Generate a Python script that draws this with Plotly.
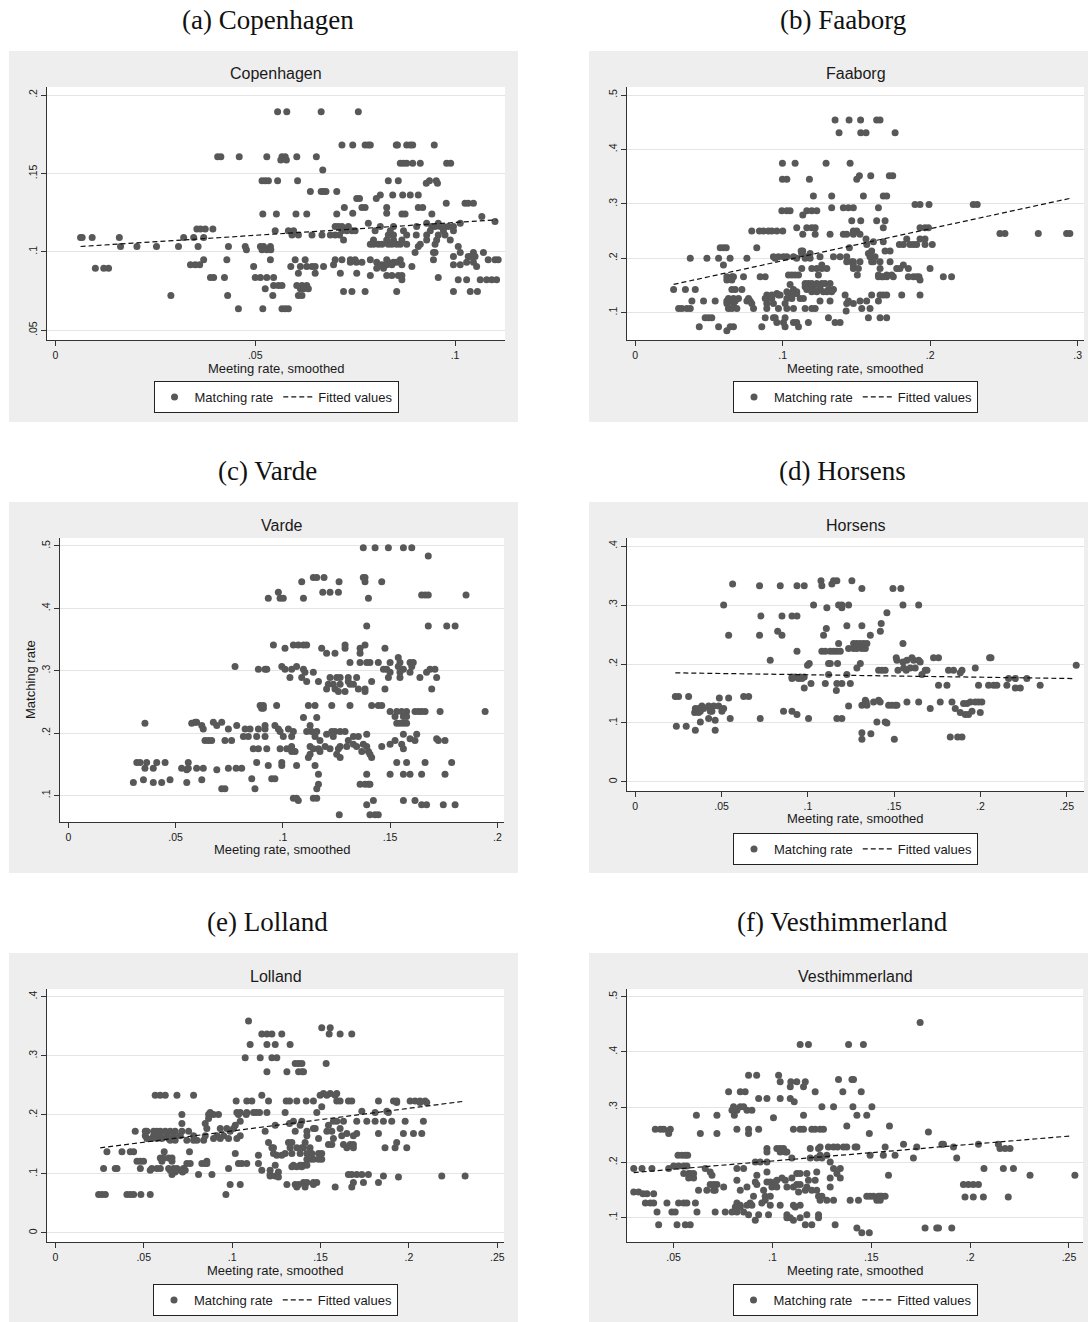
import plotly.graph_objects as go

W, H = 1088, 1322

# ---------------------------------------------------------------------------
# Data: each row is (matching rate, [meeting rates of the observations
# sharing that matching rate]).
# ---------------------------------------------------------------------------
cph_rows = [
    (0.1894, [0.0556, 0.0579, 0.0665, 0.0758]),
    (0.1682, [0.0717, 0.0744, 0.0775, 0.0783, 0.0788, 0.0853, 0.0856, 0.0879, 0.0888, 0.0894, 0.0948]),
    (0.1607, [0.0406, 0.0414, 0.046, 0.0529, 0.0567, 0.0575, 0.0604, 0.0653]),
    (0.1586, [0.0564, 0.0578]),
    (0.1565, [0.0863, 0.0871, 0.0879, 0.0894, 0.0913, 0.0979, 0.0989]),
    (0.1522, [0.0669]),
    (0.1454, [0.0517, 0.0525, 0.0533, 0.0556, 0.0606, 0.0833, 0.0858, 0.0936, 0.0953]),
    (0.1437, [0.0928, 0.0956]),
    (0.1384, [0.0638, 0.0665, 0.0671, 0.0677, 0.0704]),
    (0.1363, [0.0813, 0.0844, 0.0869, 0.0888, 0.0908]),
    (0.134, [0.0754, 0.0761, 0.0803]),
    (0.131, [0.0978, 0.1025, 0.1033, 0.1046]),
    (0.1282, [0.0723, 0.0767, 0.0775, 0.0829, 0.0908, 0.0919]),
    (0.1246, [0.0744, 0.0829]),
    (0.1242, [0.0519, 0.0553, 0.0602, 0.0629, 0.0704, 0.0867, 0.0875, 0.0942]),
    (0.1225, [0.1067]),
    (0.1193, [0.11]),
    (0.1183, [0.0783, 0.0929, 0.0958, 0.1013]),
    (0.1161, [0.07, 0.0708, 0.0717, 0.0733, 0.0813, 0.0846, 0.0904, 0.0942, 0.095, 0.0963, 0.0971, 0.0983, 0.0996]),
    (0.1146, [0.0354, 0.0363, 0.0375, 0.0394]),
    (0.1134, [0.055, 0.0583, 0.0596, 0.0717, 0.0729, 0.0742, 0.075, 0.08, 0.0838, 0.0871, 0.0938, 0.0971, 0.0996]),
    (0.1108, [0.0592, 0.0608, 0.0642, 0.0667, 0.0688, 0.07, 0.0711, 0.0833, 0.0846, 0.0879, 0.0903, 0.0929, 0.0958, 0.0975]),
    (0.1091, [0.0063, 0.0067, 0.0092, 0.016, 0.0321, 0.0346, 0.0371]),
    (0.1076, [0.0721, 0.0796, 0.0829, 0.0846, 0.0867, 0.0929, 0.0954, 0.0988]),
    (0.1049, [0.0788, 0.0796, 0.0808, 0.0817, 0.0833, 0.0842, 0.0854, 0.0863, 0.0879, 0.0913, 0.095]),
    (0.1034, [0.0163, 0.0204, 0.0253, 0.0308, 0.0357, 0.0433, 0.0475, 0.0513, 0.0521, 0.0538, 0.0908, 0.1008]),
    (0.1013, [0.0478, 0.0517, 0.0529, 0.0539]),
    (0.0996, [0.09, 0.0946, 0.095, 0.1013, 0.1046, 0.1071]),
    (0.097, [0.0996, 0.1033, 0.1038, 0.105]),
    (0.0949, [0.0371, 0.0429, 0.0538, 0.06, 0.0625, 0.07, 0.0717, 0.0738, 0.075, 0.0788, 0.0829, 0.0863, 0.0946, 0.1083, 0.11, 0.1108]),
    (0.0934, [0.0738, 0.0753, 0.0767, 0.0804, 0.0833, 0.0846, 0.0854, 0.1029, 0.1046]),
    (0.0917, [0.0338, 0.035, 0.0361, 0.0696, 0.0817, 0.0829, 0.0842, 0.0867, 0.0996, 0.1013]),
    (0.0907, [0.0496, 0.0589, 0.0613, 0.0629, 0.0642, 0.065, 0.0671, 0.0892, 0.1054]),
    (0.0896, [0.01, 0.0121, 0.0133, 0.0804, 0.0821]),
    (0.0864, [0.0608, 0.065, 0.0713, 0.0754]),
    (0.0849, [0.0788, 0.0829, 0.0842, 0.0858, 0.0867]),
    (0.0837, [0.0388, 0.0396, 0.0423, 0.05, 0.0513, 0.0529, 0.0546, 0.0958]),
    (0.0822, [0.0867, 0.1008, 0.1029, 0.1063, 0.1079, 0.1092, 0.1104]),
    (0.0786, [0.0546, 0.0558, 0.0567, 0.0604, 0.0617, 0.0629]),
    (0.0764, [0.0525, 0.0613, 0.0621, 0.0633]),
    (0.0747, [0.0721, 0.0742, 0.0775, 0.0854, 0.0996, 0.1038, 0.1056]),
    (0.0722, [0.0289, 0.0431, 0.0544, 0.0608, 0.0617]),
    (0.0637, [0.0458, 0.0519, 0.0567, 0.0575, 0.0583]),
]
cph_fit_x = [0.0063, 0.1104]
cph_fit_y = [0.1034, 0.1204]

faa_rows = [
    (0.454, [0.1355, 0.145, 0.1528, 0.1637, 0.166]),
    (0.4308, [0.1382, 0.1529, 0.1565, 0.1762]),
    (0.3744, [0.0998, 0.1084, 0.1294, 0.1457]),
    (0.3517, [0.152, 0.1597, 0.1723, 0.1746]),
    (0.345, [0.0998, 0.1028, 0.1181, 0.1502]),
    (0.3143, [0.1208, 0.1332, 0.1547, 0.1682, 0.1705]),
    (0.299, [0.1897, 0.1931, 0.1992, 0.2292, 0.2319]),
    (0.2929, [0.1332, 0.1411, 0.1445, 0.1479, 0.1649]),
    (0.2874, [0.0994, 0.1028, 0.105, 0.1163, 0.1197, 0.1231]),
    (0.2794, [0.1136]),
    (0.269, [0.1468, 0.1529, 0.1637, 0.1694]),
    (0.2561, [0.1095, 0.1163, 0.1197, 0.122, 0.1682, 0.1931, 0.1965, 0.1988]),
    (0.25, [0.079, 0.0842, 0.0869, 0.0903, 0.0926, 0.096, 0.1, 0.1479, 0.1502]),
    (0.2457, [0.2473, 0.2507, 0.2733, 0.2925, 0.2947]),
    (0.2439, [0.1136, 0.122, 0.1321, 0.1411, 0.1434, 0.1479, 0.1524]),
    (0.2353, [0.1565, 0.1841, 0.1931, 0.1965]),
    (0.2304, [0.1615, 0.1682]),
    (0.2255, [0.157, 0.1791, 0.1818, 0.1863, 0.1886, 0.1908, 0.1965, 0.2014]),
    (0.2194, [0.0576, 0.0598, 0.0617, 0.0824, 0.1452]),
    (0.2132, [0.1125, 0.1136, 0.1603, 0.1694, 0.1728]),
    (0.2089, [0.1129, 0.1186, 0.1581]),
    (0.2028, [0.0937, 0.0971, 0.1005, 0.1028, 0.1073, 0.1163, 0.1253, 0.1344, 0.1389, 0.1434, 0.1592, 0.1626]),
    (0.1998, [0.0373, 0.0486, 0.0565, 0.0643, 0.0757, 0.0949, 0.1095, 0.1152, 0.1186]),
    (0.1936, [0.1434, 0.1468, 0.1479, 0.1524, 0.1603, 0.1615, 0.166, 0.1728]),
    (0.1875, [0.0598, 0.1265, 0.1479, 0.1818]),
    (0.1814, [0.1129, 0.1197, 0.1231, 0.1265, 0.1299, 0.1479, 0.1513, 0.166, 0.1773, 0.1795, 0.1852, 0.1999]),
    (0.1691, [0.1039, 0.1062, 0.1084, 0.1107, 0.1242, 0.1506, 0.1649, 0.1705, 0.1739]),
    (0.166, [0.0621, 0.0655, 0.0666, 0.0734, 0.0847, 0.0881, 0.1649, 0.1671, 0.1682, 0.1705, 0.175, 0.1852, 0.1886, 0.1908, 0.1924, 0.2089, 0.2145]),
    (0.1599, [0.0621, 0.0655, 0.1931]),
    (0.1538, [0.1152, 0.1174, 0.1197, 0.1231, 0.1265, 0.1287, 0.1321]),
    (0.152, [0.105]),
    (0.1477, [0.1152, 0.1186, 0.1208, 0.1253]),
    (0.1428, [0.026, 0.034, 0.0407, 0.0655, 0.0678, 0.0723, 0.1073, 0.1163, 0.1208, 0.1253, 0.131, 0.1344]),
    (0.1385, [0.1028, 0.1095, 0.1197, 0.1231, 0.1276, 0.1299, 0.1332]),
    (0.1354, [0.096, 0.1039, 0.1062, 0.1084, 0.1095]),
    (0.1324, [0.0892, 0.0926, 0.0971, 0.0982, 0.1423, 0.1603, 0.166, 0.1682, 0.1705, 0.1807, 0.1931]),
    (0.1262, [0.0632, 0.0666, 0.07, 0.0768, 0.0881, 0.0892, 0.0926, 0.1028, 0.1062, 0.1118, 0.114]),
    (0.1213, [0.0384, 0.0463, 0.0542, 0.0621, 0.0644, 0.0678, 0.0757, 0.0779, 0.1253, 0.1321, 0.1445, 0.1524, 0.1569, 0.1649]),
    (0.117, [0.0621, 0.0666, 0.079, 0.0892, 0.0937, 0.1016, 0.1434, 0.1479]),
    (0.1078, [0.0294, 0.0316, 0.035, 0.0373, 0.0632, 0.0655, 0.0689, 0.0802, 0.0892, 0.0971, 0.1028, 0.1073, 0.1152, 0.1197, 0.122, 0.1536, 0.1592]),
    (0.1029, [0.143]),
    (0.0907, [0.0474, 0.0497, 0.0519, 0.0881, 0.0937, 0.0949, 0.1016, 0.131, 0.1581, 0.166, 0.1705]),
    (0.0821, [0.096, 0.1005, 0.1073, 0.1095, 0.1174, 0.1355, 0.1389]),
    (0.0741, [0.0434, 0.0565, 0.0644, 0.0666, 0.0858, 0.1016, 0.1107]),
    (0.0668, [0.0621]),
]
faa_fit_x = [0.026, 0.2947]
faa_fit_y = [0.152, 0.310]

var_rows = [
    (0.4973, [0.1375, 0.143, 0.1492, 0.1562, 0.1601]),
    (0.484, [0.1678]),
    (0.4493, [0.1142, 0.1158, 0.1192, 0.1375, 0.1383]),
    (0.4428, [0.1088, 0.1262, 0.1383, 0.1461]),
    (0.4257, [0.0979, 0.1186, 0.122, 0.1259]),
    (0.4215, [0.1647, 0.1663, 0.1678, 0.1854]),
    (0.4161, [0.0932, 0.0987, 0.1002, 0.1096, 0.1399]),
    (0.3718, [0.1391, 0.1678, 0.1764, 0.1803]),
    (0.3413, [0.0956, 0.1049, 0.1072, 0.1096, 0.1111, 0.129, 0.1383]),
    (0.336, [0.101, 0.1181, 0.129, 0.136, 0.1476]),
    (0.328, [0.1204, 0.1243, 0.136]),
    (0.321, [0.1538]),
    (0.313, [0.1313, 0.136, 0.1391, 0.1406, 0.1445, 0.15, 0.1546, 0.1593, 0.1608]),
    (0.3066, [0.0777, 0.0995, 0.1064, 0.1538, 0.1601]),
    (0.3023, [0.0886, 0.0917, 0.0925, 0.101, 0.1041, 0.1096, 0.1469, 0.1484, 0.1562, 0.1686, 0.1709]),
    (0.2975, [0.1103, 0.1142, 0.15, 0.1546, 0.1593, 0.167]),
    (0.289, [0.1033, 0.1088, 0.122, 0.1251, 0.1267, 0.1305, 0.1344, 0.1492, 0.1546, 0.1639, 0.1717]),
    (0.2826, [0.1111, 0.1166, 0.1305, 0.1414]),
    (0.2783, [0.1212, 0.1235, 0.1267, 0.1313, 0.1329]),
    (0.2708, [0.1204, 0.1243, 0.1352, 0.1383, 0.1476, 0.1694]),
    (0.2666, [0.1259, 0.129, 0.1383]),
    (0.2441, [0.0894, 0.0909, 0.0971, 0.1119, 0.115, 0.1228, 0.1313, 0.1414, 0.1445, 0.1461]),
    (0.2398, [0.0901, 0.0909]),
    (0.2345, [0.15, 0.1531, 0.1554, 0.1577, 0.1616, 0.1632, 0.1647, 0.1663, 0.1733, 0.1943]),
    (0.2265, [0.1523, 0.1562, 0.1577]),
    (0.2249, [0.1096, 0.1158]),
    (0.2174, [0.0591, 0.0598, 0.0676, 0.0715]),
    (0.2158, [0.0357, 0.0575, 0.1531, 0.1546, 0.1562, 0.1577]),
    (0.2121, [0.0622, 0.0692, 0.0785, 0.0917, 0.0963, 0.1127]),
    (0.2067, [0.0629, 0.0746, 0.0824, 0.0847, 0.0886, 0.0917, 0.0979, 0.1026]),
    (0.2025, [0.0987, 0.1049, 0.1111, 0.1134, 0.1158, 0.1228, 0.1243, 0.1267, 0.129]),
    (0.1982, [0.1204, 0.1391, 0.1562, 0.1624]),
    (0.1944, [0.0816, 0.0839, 0.0878, 0.0917, 0.1002, 0.1041, 0.115, 0.1235, 0.1329, 0.1352]),
    (0.1907, [0.1593, 0.1717]),
    (0.188, [0.0637, 0.0653, 0.0668, 0.073, 0.0761, 0.1173, 0.1305, 0.1523, 0.1616, 0.1725, 0.1756]),
    (0.1822, [0.1329, 0.1375, 0.15, 0.1554]),
    (0.1784, [0.1041, 0.1127, 0.1197, 0.1267, 0.1298, 0.1344, 0.1391, 0.1461]),
    (0.1747, [0.0862, 0.0886, 0.0925, 0.0987, 0.1018, 0.1142, 0.1166, 0.122, 0.1259, 0.1562]),
    (0.1704, [0.1041, 0.1057, 0.1173, 0.1368, 0.1399]),
    (0.1661, [0.1127, 0.1251, 0.1406]),
    (0.1608, [0.1119, 0.1267, 0.1414]),
    (0.1528, [0.0319, 0.0334, 0.0365, 0.0412, 0.0451, 0.0559, 0.0878, 0.0995, 0.1531, 0.1577, 0.1663, 0.1787]),
    (0.148, [0.0932, 0.0995, 0.1064, 0.115]),
    (0.1437, [0.0357, 0.0396, 0.0528, 0.0559, 0.0598, 0.0629, 0.0746, 0.0782, 0.0808]),
    (0.141, [0.0552, 0.0692]),
    (0.1341, [0.1166, 0.1391, 0.15, 0.1562, 0.1593, 0.1647, 0.1756]),
    (0.1266, [0.0855, 0.0948, 0.0963]),
    (0.125, [0.035, 0.0474, 0.0622]),
    (0.1207, [0.0303, 0.0396, 0.0435, 0.0552]),
    (0.118, [0.1166, 0.136, 0.1383, 0.1399, 0.1406]),
    (0.1106, [0.0715, 0.073, 0.087, 0.1158]),
    (0.0956, [0.1049, 0.1064, 0.1142, 0.1158]),
    (0.0919, [0.1072, 0.1422, 0.1562, 0.1616]),
    (0.0849, [0.1391, 0.1647, 0.167, 0.1748, 0.1803]),
    (0.0689, [0.1263, 0.1406, 0.143, 0.1445]),
]

hor_rows = [
    (0.3411, [0.1076, 0.1149, 0.1168, 0.1255]),
    (0.3355, [0.0564, 0.1139]),
    (0.3327, [0.072, 0.084, 0.0937, 0.0979, 0.1081]),
    (0.3281, [0.1313, 0.1493, 0.1539]),
    (0.3, [0.0512, 0.1033, 0.1178, 0.1197, 0.1236, 0.1551, 0.1642]),
    (0.2953, [0.111, 0.1197]),
    (0.2868, [0.1458]),
    (0.2812, [0.0728, 0.085, 0.0908, 0.0937]),
    (0.2687, [0.1425]),
    (0.2647, [0.1226, 0.1313]),
    (0.2602, [0.1107]),
    (0.2557, [0.0825, 0.142]),
    (0.2489, [0.0541, 0.072, 0.085, 0.1091, 0.1362]),
    (0.2347, [0.1178, 0.1265, 0.1284, 0.1304, 0.1323, 0.1342, 0.1551]),
    (0.2263, [0.1236, 0.1265, 0.1284, 0.1313, 0.1333]),
    (0.2217, [0.0937, 0.1081, 0.1101, 0.113, 0.1149, 0.1168, 0.1188]),
    (0.2104, [0.1512, 0.1603, 0.1728, 0.1757, 0.2053, 0.2061]),
    (0.2065, [0.0782, 0.1516, 0.1574, 0.1613, 0.1642]),
    (0.2036, [0.1551, 0.1651]),
    (0.2008, [0.1008, 0.112, 0.113, 0.1172, 0.1304]),
    (0.198, [0.0998, 0.2555]),
    (0.1934, [0.1284, 0.1555, 0.1593, 0.1622, 0.197]),
    (0.1895, [0.141, 0.1429, 0.1448, 0.1522, 0.157, 0.168, 0.169, 0.1815, 0.1844, 0.1893]),
    (0.185, [0.1883]),
    (0.1821, [0.112, 0.1226, 0.1661]),
    (0.1781, [0.0908, 0.0927, 0.0956, 0.0979]),
    (0.1753, [0.0908, 0.0946, 0.0966, 0.2163, 0.2202, 0.2269]),
    (0.1668, [0.1018, 0.1101, 0.1168, 0.1197, 0.1246]),
    (0.164, [0.1757, 0.1806, 0.1989, 0.2047, 0.2076, 0.2095, 0.2153, 0.2346]),
    (0.1595, [0.0979, 0.2202, 0.2231]),
    (0.155, [0.1165]),
    (0.1448, [0.0232, 0.0251, 0.0309, 0.0628, 0.0657]),
    (0.1425, [0.0487, 0.0541]),
    (0.1385, [0.1333, 0.141]),
    (0.1357, [0.1338, 0.1381, 0.1419, 0.1574, 0.1642, 0.1767, 0.1835, 0.1941, 0.197, 0.1989, 0.2008]),
    (0.1329, [0.1902, 0.1922]),
    (0.13, [0.1313, 0.1342, 0.1468, 0.1487, 0.1506, 0.1516]),
    (0.1289, [0.0386, 0.0425, 0.0454, 0.0483, 0.1236]),
    (0.1244, [0.0348, 0.0367, 0.0396, 0.0435, 0.0512, 0.1709, 0.1854]),
    (0.1199, [0.0377, 0.0435, 0.0444, 0.0502, 0.0859, 0.0908, 0.1951]),
    (0.1176, [0.0344, 0.0367, 0.1883, 0.1999]),
    (0.1142, [0.0937, 0.1912, 0.1931]),
    (0.1074, [0.0425, 0.055, 0.0724, 0.1004, 0.1168, 0.1197]),
    (0.1046, [0.0463]),
    (0.1018, [0.0377, 0.14, 0.1448]),
    (0.1, [0.1458]),
    (0.0944, [0.0238, 0.0295]),
    (0.0876, [0.0348, 0.0463]),
    (0.0836, [0.1313]),
    (0.0819, [0.1365]),
    (0.0763, [0.1825, 0.1868, 0.1893]),
    (0.0723, [0.1313, 0.1501]),
]
hor_fit_x = [0.0232, 0.2549]
hor_fit_y = [0.185, 0.1753]

lol_rows = [
    (0.3588, [0.1093]),
    (0.3475, [0.1507, 0.1555]),
    (0.3367, [0.1168, 0.1197, 0.1225, 0.1281, 0.1549, 0.1611, 0.1677]),
    (0.3192, [0.1102, 0.1197, 0.1244, 0.1328]),
    (0.2966, [0.1074, 0.1159, 0.1225, 0.1253]),
    (0.287, [0.1357, 0.1376, 0.1395, 0.1532]),
    (0.2729, [0.1197, 0.131, 0.1376, 0.1395, 0.1404]),
    (0.2362, [0.1517, 0.1555, 0.1592]),
    (0.2333, [0.0565, 0.0593, 0.0622, 0.0688, 0.0782, 0.1168, 0.1498, 0.1536, 0.1583]),
    (0.2232, [0.1023, 0.1083, 0.1112, 0.1206, 0.1306, 0.1325, 0.1366, 0.1419, 0.146, 0.1592,
              0.1611, 0.1658, 0.1677, 0.1828, 0.1913, 0.1931, 0.2007, 0.2035, 0.2063, 0.2092]),
    (0.2209, [0.1931, 0.2063, 0.2101]),
    (0.2136, [0.1507]),
    (0.2062, [0.1734, 0.1875]),
    (0.204, [0.0876, 0.1027, 0.1046, 0.1083, 0.1121, 0.1136, 0.1155, 0.1197, 0.13, 0.1479, 0.1809, 0.1884]),
    (0.2006, [0.0716, 0.0867, 0.0895, 0.0923, 0.1036, 0.108]),
    (0.1938, [0.0867]),
    (0.1893, [0.1046, 0.1347, 0.1394, 0.1573, 0.1592, 0.163, 0.1705, 0.1762, 0.1809, 0.1856, 0.1903, 0.1979, 0.2082]),
    (0.1853, [0.0716, 0.0848, 0.1325]),
    (0.1825, [0.1018, 0.1244, 0.1385, 0.1545]),
    (0.1768, [0.0857, 0.0933, 0.097, 0.1008, 0.146, 0.147, 0.1611]),
    (0.1723, [0.0452, 0.0509, 0.0518, 0.0556, 0.0575, 0.0594, 0.0622, 0.065, 0.0678, 0.0716, 0.0754,
              0.0989, 0.1187, 0.1357, 0.1423, 0.1536, 0.1564]),
    (0.1684, [0.1649, 0.1705, 0.1828, 0.1969, 0.2026, 0.2073]),
    (0.1644, [0.0509, 0.0556, 0.0594, 0.0631, 0.0669, 0.0707, 0.0782, 0.0848, 0.0914, 0.0952, 0.1046,
              0.1423, 0.162, 0.1686]),
    (0.1599, [0.0518, 0.0546, 0.0575, 0.0603, 0.0641, 0.0895, 0.0933, 0.098, 0.1027, 0.1489, 0.1573]),
    (0.1571, [0.065, 0.0678, 0.0744, 0.0782, 0.0801, 0.0839]),
    (0.1531, [0.1206, 0.1319, 0.1338, 0.1413, 0.1931]),
    (0.1497, [0.1545, 0.1564, 0.163, 0.1668, 0.1686]),
    (0.1441, [0.1225, 0.1234, 0.1328, 0.1366, 0.1394, 0.1404, 0.1441, 0.1649, 0.1686, 0.1865, 0.1922, 0.1988]),
    (0.1373, [0.0292, 0.0377, 0.0424, 0.0443, 0.0616, 0.0759]),
    (0.1345, [0.1018, 0.1234, 0.13, 0.1338, 0.1385, 0.1423, 0.1451, 0.1489, 0.1507]),
    (0.1316, [0.1149, 0.1253, 0.1281]),
    (0.1271, [0.0594, 0.0612, 0.0641, 0.066]),
    (0.1249, [0.1423, 0.1441, 0.146, 0.1489, 0.1507]),
    (0.1215, [0.0462, 0.0481, 0.0499, 0.0603, 0.066, 0.0857]),
    (0.1175, [0.0744, 0.0763, 0.0829, 0.0848, 0.0857, 0.1036, 0.1055, 0.1083, 0.1149]),
    (0.1147, [0.1244, 0.1347, 0.1385, 0.1404, 0.1423]),
    (0.1119, [0.1338, 0.1366, 0.1394]),
    (0.109, [0.0273, 0.0339, 0.0349, 0.0481, 0.0546, 0.0575, 0.0594, 0.0641, 0.0669, 0.0688, 0.0725, 0.098]),
    (0.1062, [0.0537, 0.065, 0.0707, 0.0735, 0.1168, 0.1215]),
    (0.1034, [0.0678, 0.072, 0.1262]),
    (0.0989, [0.066, 0.081, 0.0886, 0.1215, 0.1658, 0.1677, 0.1705, 0.1734, 0.1771]),
    (0.0966, [0.1215, 0.1244, 0.1856, 0.2186, 0.2318]),
    (0.0949, [0.1262, 0.1941]),
    (0.0853, [0.1404, 0.1423, 0.146, 0.1479, 0.1686, 0.1743, 0.1828]),
    (0.0819, [0.0989, 0.1046, 0.131, 0.1357, 0.1376, 0.146]),
    (0.078, [0.1366, 0.1413, 0.1583, 0.1677]),
    (0.065, [0.0245, 0.0264, 0.0283, 0.0405, 0.0424, 0.0443, 0.0484, 0.0537, 0.0965]),
]
lol_fit_x = [0.0254, 0.2318]
lol_fit_y = [0.1441, 0.2232]

ves_rows = [
    (0.4535, [0.1747]),
    (0.4136, [0.114, 0.1182, 0.1385, 0.146]),
    (0.358, [0.0879, 0.092, 0.1031]),
    (0.3501, [0.1334, 0.1402, 0.141]),
    (0.3459, [0.1039, 0.1093, 0.1123, 0.1166]),
    (0.3368, [0.109, 0.1157]),
    (0.3277, [0.0778, 0.0837, 0.0862, 0.1216, 0.1356, 0.1449]),
    (0.3157, [0.093, 0.0972, 0.1039, 0.109]),
    (0.3096, [0.111]),
    (0.3006, [0.0803, 0.0837, 0.0854, 0.125, 0.1309, 0.1407, 0.1503]),
    (0.2945, [0.0795, 0.082, 0.0871, 0.0896]),
    (0.2854, [0.0615, 0.0719, 0.0807, 0.1157, 0.1427, 0.1477]),
    (0.2806, [0.1005]),
    (0.2661, [0.1376, 0.1592]),
    (0.26, [0.0407, 0.0433, 0.045, 0.0483, 0.082, 0.0879, 0.093, 0.1106, 0.114, 0.1157, 0.1199, 0.1216, 0.1241, 0.1258]),
    (0.2552, [0.1789]),
    (0.2522, [0.0475, 0.0635, 0.0719, 0.0879, 0.149]),
    (0.2328, [0.1663, 0.1857, 0.1865, 0.2042, 0.2143]),
    (0.228, [0.1241, 0.1283, 0.1309, 0.1329, 0.1359, 0.1376, 0.1418, 0.1427, 0.157, 0.173, 0.1916]),
    (0.225, [0.0972, 0.1022, 0.1039, 0.1056, 0.1191, 0.1233, 0.2151, 0.2177, 0.2202]),
    (0.2189, [0.0972, 0.1039, 0.1065, 0.1073]),
    (0.2129, [0.0522, 0.0542, 0.0559, 0.0571, 0.1241, 0.1275, 0.1494, 0.1561, 0.162]),
    (0.2081, [0.1098, 0.1191, 0.1224, 0.125, 0.1713, 0.1932]),
    (0.2008, [0.0913, 0.0938, 0.0972, 0.1292]),
    (0.1936, [0.05, 0.0525, 0.0551, 0.0567]),
    (0.1887, [0.0298, 0.034, 0.039, 0.0475, 0.066, 0.082, 0.0854, 0.1309, 0.1343, 0.207, 0.2168, 0.2219]),
    (0.1827, [0.0685, 0.0972, 0.1224]),
    (0.1797, [0.0551, 0.0576, 0.0584, 0.0601, 0.1123, 0.114, 0.1174, 0.1326]),
    (0.1767, [0.0694, 0.0921, 0.1587, 0.2303, 0.253]),
    (0.1718, [0.0576, 0.0601, 0.1048, 0.1098, 0.1292, 0.1343]),
    (0.1676, [0.082, 0.1022, 0.1065, 0.1182, 0.1216]),
    (0.1646, [0.0913, 0.0972, 0.0989, 0.1014]),
    (0.1598, [0.0685, 0.0702, 0.0719, 0.0921, 0.1123, 0.114, 0.1966, 0.1991, 0.2016, 0.2042]),
    (0.1555, [0.0753, 0.0871, 0.0997, 0.1022, 0.1073, 0.1106, 0.1174, 0.1292]),
    (0.1494, [0.0626, 0.0668, 0.0702, 0.071, 0.0837, 0.0955, 0.1166, 0.1199, 0.1224]),
    (0.1464, [0.0298, 0.0323, 0.1132]),
    (0.1434, [0.0345, 0.0365, 0.0399]),
    (0.1386, [0.0904, 0.0963, 0.0989, 0.1233, 0.125, 0.1477, 0.1494, 0.1511, 0.1536, 0.1545, 0.1553, 0.157]),
    (0.1374, [0.1974, 0.2016, 0.2067, 0.2193]),
    (0.1313, [0.0963, 0.1241, 0.1275, 0.1309, 0.1393, 0.1435, 0.1528, 0.1545]),
    (0.1265, [0.0357, 0.0382, 0.0399, 0.0466, 0.0525, 0.0551, 0.0567, 0.061, 0.082, 0.0887, 0.0946]),
    (0.1222, [0.0837, 0.0871, 0.0896, 0.0989, 0.1039, 0.1106, 0.114]),
    (0.1192, [0.0812, 0.0837, 0.1115]),
    (0.1101, [0.0416, 0.0491, 0.0508, 0.0618, 0.071, 0.0761, 0.0795, 0.082, 0.0854]),
    (0.1053, [0.0879, 0.093, 0.098, 0.1073, 0.1174, 0.1233]),
    (0.0999, [0.1073, 0.109, 0.114, 0.1233]),
    (0.0951, [0.0913, 0.1106]),
    (0.0872, [0.0424, 0.0517, 0.0559, 0.0584, 0.1166, 0.1199, 0.1317]),
    (0.0811, [0.1427, 0.1772, 0.1831, 0.184, 0.1907]),
    (0.0727, [0.1452, 0.149]),
]
ves_fit_x = [0.0298, 0.2514]
ves_fit_y = [0.1815, 0.248]

# Axis ticks (Stata-style labels without leading zero)
ticks_0_1 = [0, 0.05, 0.1]
ticks_0_3 = [0, 0.1, 0.2, 0.3]
ticks_0_2 = [0, 0.05, 0.1, 0.15, 0.2]
ticks_0_25 = [0, 0.05, 0.1, 0.15, 0.2, 0.25]
ticks_05_25 = [0.05, 0.1, 0.15, 0.2, 0.25]
yticks_05_2 = [0.05, 0.1, 0.15, 0.2]
yticks_1_5 = [0.1, 0.2, 0.3, 0.4, 0.5]
yticks_0_4 = [0, 0.1, 0.2, 0.3, 0.4]


def stata_label(v):
    s = f"{v:g}"
    return s[1:] if s.startswith("0.") else s


# ---------------------------------------------------------------------------
# Panel layout (pixel boxes in the page, axis ranges)
# ---------------------------------------------------------------------------
panels = [
    dict(caption="(a) Copenhagen", title="Copenhagen", rows=cph_rows, fit=(cph_fit_x, cph_fit_y),
         xt=ticks_0_1, yt=yticks_05_2, xr=[-0.0021, 0.1125], yr=[0.0438, 0.2051],
         box=(9, 51, 518, 422), plot=(47, 87, 505, 340), legend_y=381, ytitle=False),
    dict(caption="(b) Faaborg", title="Faaborg", rows=faa_rows, fit=(faa_fit_x, faa_fit_y),
         xt=ticks_0_3, yt=yticks_1_5, xr=[-0.0056, 0.3043], yr=[0.0498, 0.5147],
         box=(589, 51, 1088, 422), plot=(627, 87, 1084, 340), legend_y=381, ytitle=False),
    dict(caption="(c) Varde", title="Varde", rows=var_rows, fit=None,
         xt=ticks_0_2, yt=yticks_1_5, xr=[-0.0039, 0.2031], yr=[0.0574, 0.5128],
         box=(9, 502, 518, 873), plot=(60, 538, 504, 822), legend_y=None, ytitle=True),
    dict(caption="(d) Horsens", title="Horsens", rows=hor_rows, fit=(hor_fit_x, hor_fit_y),
         xt=ticks_0_25, yt=yticks_0_4, xr=[-0.0048, 0.26], yr=[-0.0153, 0.4136],
         box=(589, 502, 1088, 873), plot=(627, 538, 1084, 791), legend_y=833, ytitle=False),
    dict(caption="(e) Lolland", title="Lolland", rows=lol_rows, fit=(lol_fit_x, lol_fit_y),
         xt=ticks_0_25, yt=yticks_0_4, xr=[-0.0047, 0.2538], yr=[-0.0153, 0.413],
         box=(9, 953, 518, 1322), plot=(47, 989, 504, 1242), legend_y=1284, ytitle=False),
    dict(caption="(f) Vesthimmerland", title="Vesthimmerland", rows=ves_rows, fit=(ves_fit_x, ves_fit_y),
         xt=ticks_05_25, yt=yticks_1_5, xr=[0.0264, 0.2571], yr=[0.0558, 0.514],
         box=(589, 953, 1088, 1322), plot=(627, 989, 1083, 1242), legend_y=1284, ytitle=False),
]

SANS = "Liberation Sans, Arial, sans-serif"
SERIF = "Liberation Serif, Times New Roman, serif"
TXT = "#1a1a1a"
DOT = "#585858"
PANEL_BG = "#eeeeee"


def px(x):
    return x / W


def py(y):
    return 1 - y / H


fig = go.Figure()
shapes, annotations, layout = [], [], {}
legend_count = 0

for i, p in enumerate(panels, start=1):
    sfx = "" if i == 1 else str(i)
    xname, yname = "x" + sfx, "y" + sfx
    bx0, by0, bx1, by1 = p["box"]
    qx0, qy0, qx1, qy1 = p["plot"]

    # grey graph region, white plot region
    shapes.append(dict(type="rect", xref="paper", yref="paper", layer="below",
                       x0=px(bx0), x1=px(bx1), y0=py(by1), y1=py(by0),
                       fillcolor=PANEL_BG, line=dict(width=0)))
    shapes.append(dict(type="rect", xref=xname + " domain", yref=yname + " domain", layer="below",
                       x0=0, x1=1, y0=0, y1=1, fillcolor="white", line=dict(width=0)))

    layout["xaxis" + sfx] = dict(
        domain=[px(qx0), px(qx1)], range=p["xr"], anchor=yname,
        tickvals=p["xt"], ticktext=[stata_label(v) for v in p["xt"]],
        showline=True, linecolor="#333333", linewidth=1, ticks="outside", ticklen=5,
        tickcolor="#333333", showgrid=False, zeroline=False,
        tickfont=dict(family=SANS, size=10.5, color=TXT),
    )
    layout["yaxis" + sfx] = dict(
        domain=[py(qy1), py(qy0)], range=p["yr"], anchor=xname,
        tickvals=p["yt"], ticktext=[stata_label(v) for v in p["yt"]], tickangle=-90,
        showline=True, linecolor="#333333", linewidth=1, ticks="outside", ticklen=5,
        tickcolor="#333333", showgrid=True, gridcolor="#e4e4e4", gridwidth=1.2, zeroline=False,
        tickfont=dict(family=SANS, size=10.5, color=TXT),
    )

    xs, ys = [], []
    for yv, xlist in p["rows"]:
        for xv in xlist:
            xs.append(xv)
            ys.append(yv)

    has_legend = p["legend_y"] is not None
    lname = None
    if has_legend:
        legend_count += 1
        lname = "legend" if legend_count == 1 else f"legend{legend_count}"
        layout[lname] = dict(
            orientation="h", x=px((qx0 + qx1) / 2), xanchor="center",
            y=py(p["legend_y"]), yanchor="top", bgcolor="white",
            bordercolor="#222222", borderwidth=1, font=dict(family=SANS, size=13, color=TXT),
            itemwidth=30, tracegroupgap=0,
        )

    fig.add_trace(go.Scatter(
        x=xs, y=ys, mode="markers", name="Matching rate", xaxis=xname, yaxis=yname,
        marker=dict(color=DOT, size=7, line=dict(width=0)),
        showlegend=has_legend, legend=lname if has_legend else None,
    ))
    if p["fit"] is not None:
        fig.add_trace(go.Scatter(
            x=p["fit"][0], y=p["fit"][1], mode="lines", name="Fitted values",
            xaxis=xname, yaxis=yname, line=dict(color="#111111", width=1.2, dash="5px,3px"),
            showlegend=has_legend, legend=lname if has_legend else None,
        ))

    cx = (qx0 + qx1) / 2
    # sub-figure caption
    annotations.append(dict(text=p["caption"], xref="paper", yref="paper",
                            x=px((bx0 + bx1) / 2 + 4), y=py(by0 - 31), xanchor="center", yanchor="middle",
                            showarrow=False, font=dict(family=SERIF, size=27, color="#111111")))
    # graph title
    annotations.append(dict(text=p["title"], xref="paper", yref="paper",
                            x=px(cx), y=py(by0 + 23), xanchor="center", yanchor="middle",
                            showarrow=False, font=dict(family=SANS, size=16, color=TXT)))
    # x-axis title
    annotations.append(dict(text="Meeting rate, smoothed", xref="paper", yref="paper",
                            x=px(cx), y=py(qy1 + 28), xanchor="center", yanchor="middle",
                            showarrow=False, font=dict(family=SANS, size=13, color=TXT)))
    if p["ytitle"]:
        annotations.append(dict(text="Matching rate", xref="paper", yref="paper",
                                x=px(30), y=py((qy0 + qy1) / 2), xanchor="center", yanchor="middle",
                                textangle=-90, showarrow=False,
                                font=dict(family=SANS, size=13, color=TXT)))

fig.update_layout(
    width=W, height=H, autosize=False,
    margin=dict(l=0, r=0, t=0, b=0),
    paper_bgcolor="white", plot_bgcolor="rgba(0,0,0,0)",
    shapes=shapes, annotations=annotations,
    **layout,
)

fig.write_html("out.html")
